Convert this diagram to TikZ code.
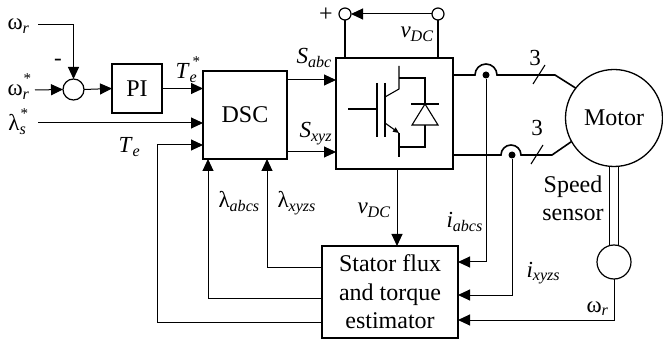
\documentclass[tikz,border=0pt]{standalone}
\usepackage{fontspec}
\setmainfont{Liberation Serif}
\usetikzlibrary{arrows.meta,calc}
\newcommand\ssub[1]{\textsubscript{\textit{#1}}}
\newcommand\sbsp[2]{\rlap{\raisebox{0.55em}{\fontsize{15}{15}\selectfont #2}}\textsubscript{\textit{#1}}}
\begin{document}
\begin{tikzpicture}[x=1pt,y=-1pt,line width=1pt,
  >={Triangle[length=12pt,width=11pt]},
  box/.style={draw,line width=1.2pt,inner sep=0pt,outer sep=0pt},
  rnd/.style={draw,circle,line width=1.2pt,inner sep=0pt,outer sep=0pt,fill=white},
  lbl/.style={font=\fontsize{23}{26}\selectfont,inner sep=0pt},
  big/.style={font=\fontsize{24}{28.5}\selectfont,inner sep=0pt},
  outl/.style={line width=1.6pt},
  sym/.style={line width=1.1pt},
  dot/.style={circle,fill=black,inner sep=0pt,minimum size=7pt}]
\useasboundingbox (0,0) rectangle (663,344);
% blocks
\node[rnd,minimum size=21pt] (sum) at (73.5,89.5) {};
\node[box,big,minimum width=50pt,minimum height=49pt] (pi) at (137,88.5) {PI};
\node[box,big,minimum width=84pt,minimum height=88pt] (dsc) at (245,115) {DSC};
\node[box,line width=2.2pt,minimum width=117pt,minimum height=111pt] (inv) at (394.5,113.5) {};
\node[box,big,line width=1.4pt,align=center,minimum width=136pt,minimum height=92pt] (est) at (390,292) {Stator flux\\and torque\\estimator};
\node[rnd,line width=1.3pt,minimum size=97pt] (motor) at (614,118) {};
\node[big] at (614,118) {Motor};
\node[rnd,minimum size=34pt] (sensor) at (614,262) {};
\node[rnd,minimum size=12pt] (tl) at (345,14) {};
\node[rnd,minimum size=12pt] (tr) at (438,14) {};
\node[dot] (d1) at (486,75) {};
\node[dot] (d2) at (512,155) {};
% helper coordinates
\coordinate (wrin) at (38,25);
\coordinate (wrsin) at (35,90);
\coordinate (lsin) at (38,123);
\coordinate (ysa) at (0,80);
\coordinate (ysx) at (0,152);
\coordinate (yo1) at (0,75);
\coordinate (yo2) at (0,155);
\coordinate (yia) at (0,262);
\coordinate (yix) at (0,295);
\coordinate (ywr) at (0,320);
\coordinate (yte) at (0,322);
\coordinate (ytein) at (0,145);
\coordinate (yla) at (0,298);
\coordinate (ylx) at (0,268);
\coordinate (xte) at (157,0);
\coordinate (xla) at (208,0);
\coordinate (xlx) at (267,0);
\coordinate (xvdc) at (397,0);
\coordinate (m1) at (555,75);
\coordinate (m2) at (552,155);
% connectors
\draw[->] (wrin) -| (sum.north);
\draw[->] (wrsin) -- (sum.west);
\draw[->] (sum.east) -- (pi.west);
\draw[->] (pi.east) -- (dsc.west |- pi.east);
\draw[->] (lsin) -- (dsc.west |- lsin);
\draw[->] (est.west |- yte) -| (xte |- ytein) -- (dsc.west |- ytein);
\draw[->] (est.west |- yla) -| (xla |- dsc.south);
\draw[->] (est.west |- ylx) -| (xlx |- dsc.south);
\draw[->] (dsc.east |- ysa) -- (inv.west |- ysa);
\draw[->] (dsc.east |- ysx) -- (inv.west |- ysx);
\draw[->] (xvdc |- inv.south) -- (xvdc |- est.north);
\draw[->] (d1) |- (est.east |- yia);
\draw[->] (d2) |- (est.east |- yix);
\draw[->] (sensor.south) |- (est.east |- ywr);
\draw[->] (tr.west) -- (tl.east);
\draw[line width=1.2pt] (tl.south) -- (tl.south |- inv.north);
\draw[line width=1.2pt] (tr.south) -- (tr.south |- inv.north);
% power outputs with hops
\draw[outl] (inv.east |- yo1) -- ($(d1)+(-11,0)$) arc[start angle=180,end angle=0,radius=11pt] -- (m1) -- (motor.142);
\draw[outl] (inv.east |- yo2) -- ($(d2)+(-11,0)$) arc[start angle=180,end angle=0,radius=10pt] -- (m2) -- (motor.209);
\draw[line width=1.1pt] (533,84) -- (545,65);
\draw[line width=1.1pt] (531,164) -- (543,145);
% shaft
\draw[line width=1.2pt] ($(motor.south)+(-4.5,0)$) -- ($(sensor.north)+(-4.5,0.6)$);
\draw[line width=1.2pt] ($(motor.south)+(4.5,0)$) -- ($(sensor.north)+(4.5,0.6)$);
% IGBT + diode symbol
\draw[sym] (348,109) -- (377,109);
\draw[sym] (377,83) -- (377,137);
\draw[sym] (385,83) -- (385,137);
\draw[sym] (399,66) -- (399,89) -- (385,97);
\draw[sym,-{Triangle[length=6pt,width=5pt]}] (385,123) -- (399,133);
\draw[sym] (399,133) -- (399,157);
\draw[sym] (399,78) -- (425,78) -- (425,147) -- (399,147);
\draw[sym,fill=white] (412,125) -- (438,125) -- (425,104) -- cycle;
\draw[sym] (411,104) -- (439,104);
% labels
\node[lbl,anchor=base west] at (7,30) {ω\ssub{r}};
\node[lbl,anchor=base west] at (7,96) {ω\sbsp{r}{\kern1pt*}};
\node[lbl,anchor=base west] at (8,131) {λ\sbsp{s}{\kern1pt*}};
\node[lbl] at (58,62) {-};
\node[lbl,anchor=base west] at (175,79) {\textit{T}\sbsp{e}{\kern3pt*}};
\node[lbl,anchor=base west] at (118,153) {\textit{T}\ssub{e}};
\node[lbl,anchor=base west] at (296,64) {\textit{S}\ssub{abc}};
\node[lbl,anchor=base west] at (299,138) {\textit{S}\ssub{xyz}};
\node[big] at (326,15) {+};
\node[lbl,anchor=base west] at (400,38) {\textit{v}\ssub{DC}};
\node[lbl,anchor=base west] at (218,208) {λ\ssub{abcs}};
\node[lbl,anchor=base west] at (277,208) {λ\ssub{xyzs}};
\node[lbl,anchor=base west] at (357,214) {\textit{v}\ssub{DC}};
\node[lbl,anchor=base west] at (446,228) {\textit{i}\ssub{abcs}};
\node[lbl,anchor=base west] at (526,277) {\textit{i}\ssub{xyzs}};
\node[lbl,anchor=base west] at (586,312) {ω\ssub{r}};
\node[lbl] at (535,58) {3};
\node[lbl] at (537,128) {3};
\node[big] at (573,187) {Speed};
\node[big] at (573,215) {sensor};
\end{tikzpicture}
\end{document}
